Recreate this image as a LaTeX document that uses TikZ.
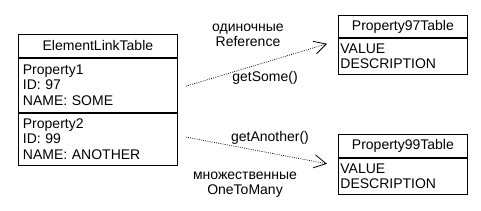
\documentclass[tikz,border=0pt]{standalone}
\usepackage{fontspec}
\setmainfont{Liberation Sans}
\usetikzlibrary{positioning, arrows.meta, calc}
\tikzset{
  cell/.style={draw, line width=0.8bp, inner sep=0pt, anchor=north west},
  hdr/.style={cell, align=center},
  body/.style={cell, align=left},
  link/.style={line width=0.7bp, dash pattern=on 0.9bp off 1.3bp,
    -{Straight Barb[length=12bp, width=13bp, line width=0.8bp]}}
}

\begin{document}
\begin{tikzpicture}[x=1bp, y=-1bp, font=\fontsize{14bp}{15.5bp}\selectfont]
\useasboundingbox (0,0) rectangle (481,210);
% link table on the left
\node[hdr, minimum width=159bp, minimum height=23bp] (elt) at (18,34) {ElementLinkTable};
\node[body, text width=150bp, inner xsep=4.5bp, minimum height=54bp] (p1) at (elt.south west)
  {Property1\\ID: 97\\NAME: SOME};
\node[body, text width=150bp, inner xsep=4.5bp, minimum height=52bp] (p2) at (p1.south west)
  {Property2\\ID: 99\\NAME: ANOTHER};

% property tables on the right
\node[hdr, minimum width=129bp, minimum height=22bp] (h97) at (338,15) {Property97Table};
\node[body, text width=125bp, inner xsep=2bp, minimum height=36bp] (b97) at (h97.south west)
  {VALUE\\DESCRIPTION};
\node[hdr, minimum width=129bp, minimum height=23bp] (h99) at (338,134) {Property99Table};
\node[body, text width=125bp, inner xsep=2bp, minimum height=36bp] (b99) at (h99.south west)
  {VALUE\\DESCRIPTION};

% arrow ends, kept a little off the boxes
\coordinate (s1) at ([xshift=8bp, yshift=-1bp]p1.east);
\coordinate (t1) at ([xshift=-11bp, yshift=-6bp]h97.south west);
\coordinate (s2) at ([xshift=8bp, yshift=2bp]p2.east);
\coordinate (t2) at ([xshift=-11bp, yshift=-6bp]h99.south west);
\draw[link] (s1) -- (t1);
\draw[link] (s2) -- (t2);

\node[align=center] (kind1) at (248,35.5) {одиночные\\Reference};
\node (call1) at (265,78) {getSome()};
\node (call2) at (270,138) {getAnother()};
\node[align=center] (kind2) at (245,184.5) {множественные\\OneToMany};
\end{tikzpicture}
\end{document}
